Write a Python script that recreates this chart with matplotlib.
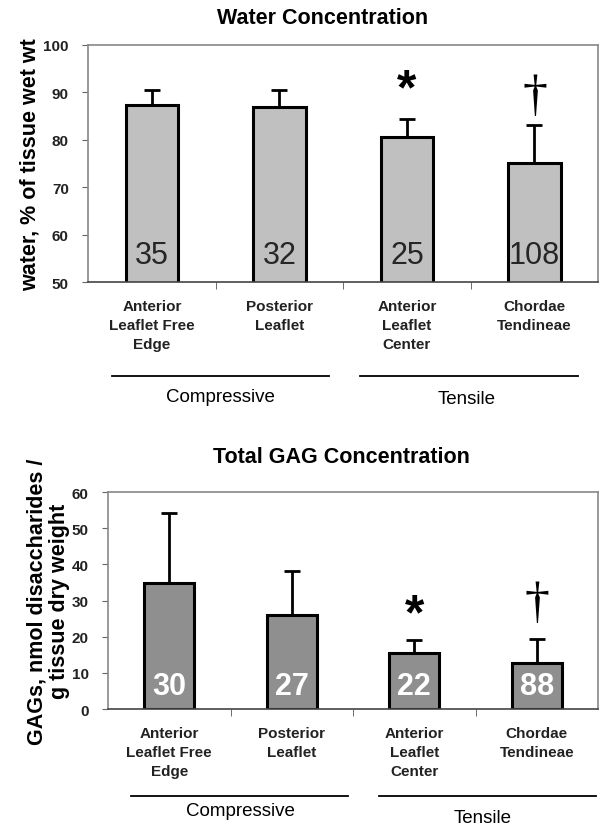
import matplotlib
matplotlib.use("Agg")
import matplotlib.pyplot as plt

plt.rcParams['font.family'] = ['Liberation Sans', 'DejaVu Sans']

# data
regions = ["Anterior\nLeaflet Free\nEdge", "Posterior\nLeaflet",
           "Anterior\nLeaflet\nCenter", "Chordae\nTendineae"]
water_mean = [87.3, 86.8, 80.6, 75.1]
water_err = [3.1, 3.6, 3.7, 8.0]
water_n = ["35", "32", "25", "108"]
water_marks = ["", "", "*", "\u2020"]

gag_mean = [34.9, 25.9, 15.5, 12.8]
gag_err = [19.3, 12.4, 3.5, 6.6]
gag_n = ["30", "27", "22", "88"]
gag_marks = ["", "", "*", "\u2020"]

groups = ["Compressive", "Tensile"]

fig = plt.figure(figsize=(6, 8.28), dpi=100)


def draw_panel(ax, means, errs, ns, marks, color, ylim, yticks, title, title_x,
               title_off, ylabel, ylabelpad, ncolor, nweight, n_frac, star_y,
               dag_y, grp_line, grp_text):
    x = range(len(means))
    ax.bar(x, means, width=0.41, color=color, edgecolor='black', linewidth=2.2,
           zorder=2)
    ax.errorbar(x, means, yerr=[[0] * len(errs), errs], fmt='none',
                ecolor='black', elinewidth=2, capsize=6, capthick=2, zorder=1)
    ax.set_xlim(-0.5, len(means) - 0.5)
    ax.set_ylim(*ylim)
    ax.set_yticks(yticks)
    ax.set_yticklabels([str(t) for t in yticks], fontsize=11, fontweight='bold',
                       color='#222222')
    ax.set_xticks(list(x))
    ax.set_xticklabels(regions, fontsize=11, fontweight='bold', linespacing=1.45,
                       color='#222222')
    ax.tick_params(axis='x', length=0, pad=12)
    ax.set_xticks([0.5, 1.5, 2.5], minor=True)
    ax.tick_params(axis='x', which='minor', length=5, direction='out', color='#555555')
    ax.tick_params(axis='y', length=4, direction='out', color='#666666', pad=10)
    for s in ['left', 'top', 'right']:
        ax.spines[s].set_color('#888888')
        ax.spines[s].set_linewidth(1.2)
    ax.spines['bottom'].set_color('#444444')
    ax.spines['bottom'].set_linewidth(1.2)
    ax.text(title_x, 1.0 + title_off / (ax.get_position().height * 828), title,
            transform=ax.transAxes, ha='center', va='center', fontsize=15.5,
            fontweight='bold')
    ax.set_ylabel(ylabel, fontsize=15.5, fontweight='bold', labelpad=ylabelpad,
                  linespacing=1.1)
    lo = ylim[0]
    for i, n in enumerate(ns):
        ax.text(i, lo + (ylim[1] - lo) * n_frac, n, ha='center', va='center',
                fontsize=22, color=ncolor, fontweight=nweight, zorder=3)
    for i, m in enumerate(marks):
        if m == "*":
            ax.text(i, star_y, m, ha='center', va='center', fontsize=36,
                    fontweight='bold')
        elif m:
            ax.text(i, dag_y, m, ha='center', va='center', fontsize=36,
                    family='Liberation Serif')
    tr = ax.get_xaxis_transform()
    for (x0, x1, ly), (tx, ty), g in zip(grp_line, grp_text, groups):
        ax.plot([x0, x1], [ly, ly], color='black', lw=1.3, transform=tr,
                clip_on=False)
        ax.text(tx, ty, g, transform=tr, ha='center', va='center', fontsize=13.5)


ax1 = fig.add_axes([0.147, 0.658, 0.85, 0.287])
draw_panel(ax1, water_mean, water_err, water_n, water_marks, '#c0c0c0',
           (50, 100), [50, 60, 70, 80, 90, 100], "Water Concentration", 0.46, 27,
           "water, % of tissue wet wt", 2, '#262626', 'normal', 0.115, 90.3, 89.0,
           [(-0.31, 1.39, -0.395), (1.63, 3.34, -0.395)],
           [(0.54, -0.48), (2.47, -0.49)])

ax2 = fig.add_axes([0.18, 0.1425, 0.817, 0.262])
draw_panel(ax2, gag_mean, gag_err, gag_n, gag_marks, '#8f8f8f',
           (0, 60), [0, 10, 20, 30, 40, 50, 60], "Total GAG Concentration", 0.476, 36,
           "GAGs, nmol disaccharides /\ng tissue dry weight", 1, 'white', 'bold',
           0.105, 25.8, 29.0,
           [(-0.31, 1.46, -0.40), (1.71, 3.48, -0.40)],
           [(0.58, -0.47), (2.56, -0.50)])

fig.savefig("out.png", dpi=100)
